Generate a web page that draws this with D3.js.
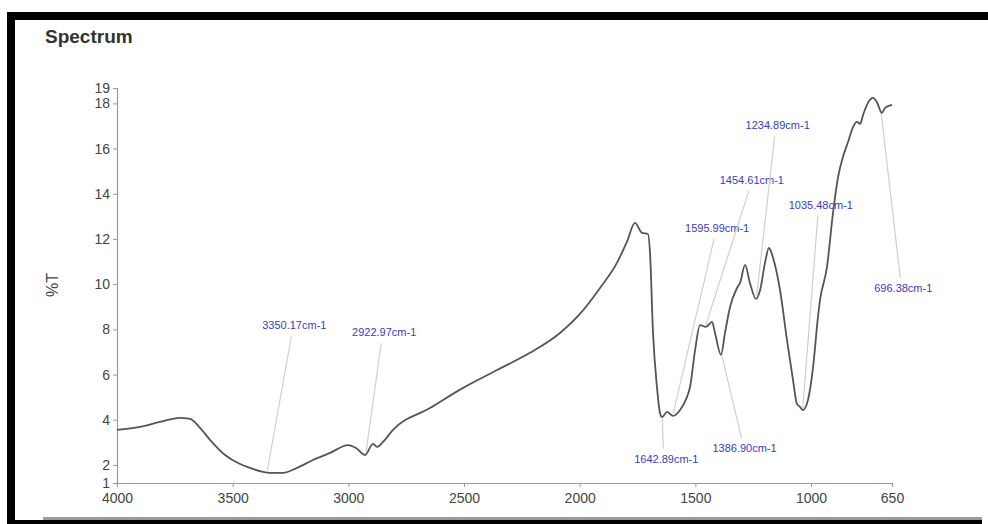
<!DOCTYPE html>
<html>
<head>
<meta charset="utf-8">
<script src="https://cdn.jsdelivr.net/npm/d3@7"></script>
<style>
  html, body { margin: 0; padding: 0; background: #fff; }
  svg { display: block; }
  text { font-family: "Liberation Sans", Arial, sans-serif; }
</style>
</head>
<body>
<svg id="chart" width="988" height="524"></svg>
<script>
// IR spectrum: wavenumber (cm-1) vs transmittance (%T)
const wavenumbers = [4000, 3900, 3814, 3728, 3684, 3641, 3598, 3533, 3468, 3425,
  3369, 3339, 3282, 3222, 3153, 3079, 3001, 2967, 2928, 2893,
  2876, 2850, 2807, 2647, 2504, 2357, 2215, 2085, 1999, 1912,
  1839, 1796, 1761, 1731, 1705, 1696, 1683, 1666, 1653, 1644,
  1622, 1597, 1566, 1536, 1523, 1501, 1480, 1454, 1428, 1415,
  1389, 1372, 1350, 1320, 1307, 1285, 1264, 1238, 1220, 1199,
  1182, 1164, 1134, 1104, 1078, 1061, 1048, 1035, 1013, 991,
  970, 961, 931, 905, 883, 862, 840, 818, 801, 788,
  775, 754, 732, 715, 694, 680, 650];

const transmittance = [3.55, 3.68, 3.90, 4.08, 4.04, 3.64, 3.11, 2.44, 2.04, 1.87,
  1.69, 1.65, 1.65, 1.87, 2.22, 2.53, 2.88, 2.75, 2.44, 2.93,
  2.80, 3.02, 3.55, 4.52, 5.41, 6.20, 6.96, 7.84, 8.68, 9.83,
  10.94, 11.87, 12.71, 12.27, 12.22, 11.38, 7.84, 5.45, 4.30, 4.12,
  4.35, 4.17, 4.43, 5.01, 5.45, 7.09, 8.19, 8.11, 8.33, 7.84,
  6.87, 7.84, 8.99, 9.83, 10.05, 10.85, 10.05, 9.35, 9.74, 10.94,
  11.60, 11.16, 9.74, 7.53, 5.76, 4.70, 4.57, 4.43, 4.88, 6.34,
  8.55, 9.30, 10.76, 13.15, 14.74, 15.63, 16.29, 16.96, 17.18, 17.09,
  17.49, 18.02, 18.24, 18.05, 17.58, 17.80, 17.93];

// Picked peaks (cm-1)
const peakWavenumbers = [3350.17, 2922.97, 1642.89, 1595.99, 1454.61, 1386.90, 1234.89, 1035.48, 696.38];

// Callout placement: label centre / baseline offset (px) from the peak point on the trace
const calloutOffsets = [[27, -143], [18, -117], [4, 46], [44, -184], [46, -143],
  [23, 100], [21, -168], [18, -201], [22, 180]];

const xTicks = [4000, 3500, 3000, 2500, 2000, 1500, 1000, 650];
const yTicks = [2, 4, 6, 8, 10, 12, 14, 16, 18];
const xDomain = [4000, 650];
const yDomain = [1.2, 18.68];

const svg = d3.select("#chart");

// Frame
svg.append("rect").attr("x", 7).attr("y", 12).attr("width", 981).attr("height", 8).attr("fill", "#000");
svg.append("rect").attr("x", 7).attr("y", 12).attr("width", 8).attr("height", 512).attr("fill", "#000");
svg.append("rect").attr("x", 43).attr("y", 517).attr("width", 939).attr("height", 3).attr("fill", "#9a9a9a");
svg.append("rect").attr("x", 7).attr("y", 520).attr("width", 975).attr("height", 4).attr("fill", "#000");

svg.append("text").attr("x", 45).attr("y", 43)
  .attr("font-size", 19).attr("font-weight", "bold").attr("fill", "#333")
  .text("Spectrum");

const x = d3.scaleLinear().domain(xDomain).range([117, 892]);
const y = d3.scaleLinear().domain(yDomain).range([483, 88]);

// Axes
const xAxis = svg.append("g").attr("transform", "translate(0,483)")
  .call(d3.axisBottom(x).tickValues(xTicks).tickSize(4).tickPadding(6).tickFormat(d3.format("d")));
const yAxis = svg.append("g").attr("transform", "translate(117,0)")
  .call(d3.axisLeft(y).tickValues([yDomain[0], ...yTicks, yDomain[1]]).tickSize(4).tickPadding(3)
    .tickFormat(d => d3.format(".0f")(d)));

[xAxis, yAxis].forEach(g => {
  g.select(".domain").attr("stroke", "#9a9a9a").attr("stroke-width", 1.2);
  g.selectAll(".tick line").attr("stroke", "#9a9a9a");
  g.selectAll(".tick text").attr("fill", "#444").attr("font-size", 14)
    .attr("font-family", "'Liberation Sans', Arial, sans-serif");
});

svg.append("text")
  .attr("transform", "translate(58,285) rotate(-90)")
  .attr("text-anchor", "middle")
  .attr("font-size", 16).attr("fill", "#444")
  .text("%T");

// Transmittance at an arbitrary wavenumber, linear between samples
function tAt(w) {
  for (let i = 0; i < wavenumbers.length - 1; i++) {
    const a = wavenumbers[i], b = wavenumbers[i + 1];
    if (w <= a && w >= b) {
      const t = (a - w) / (a - b);
      return transmittance[i] + t * (transmittance[i + 1] - transmittance[i]);
    }
  }
  return transmittance[transmittance.length - 1];
}

// Callouts (drawn under the trace)
const callouts = svg.append("g");
peakWavenumbers.forEach((w, i) => {
  const px = x(w), py = y(tAt(w));
  const [dx, dy] = calloutOffsets[i];
  const lx = px + dx, ly = py + dy;
  const above = dy < 0;
  const sy = above ? ly + 7 : ly - 14;
  const ey = above ? py - 2 : py + 2;
  callouts.append("line")
    .attr("x1", lx - 3).attr("y1", sy).attr("x2", px).attr("y2", ey)
    .attr("stroke", "#cfcfcf").attr("stroke-width", 1.2);
  callouts.append("text")
    .attr("x", lx).attr("y", ly)
    .attr("text-anchor", "middle")
    .attr("font-size", 11).attr("fill", "#3a3ac8")
    .text(d3.format(".2f")(w) + "cm-1");
});

// Trace
const pts = wavenumbers.map((w, i) => [w, transmittance[i]]);
svg.append("path")
  .datum(pts)
  .attr("fill", "none")
  .attr("stroke", "#555")
  .attr("stroke-width", 1.8)
  .attr("stroke-linejoin", "round")
  .attr("d", d3.line().x(d => x(d[0])).y(d => y(d[1])).curve(d3.curveMonotoneX));
</script>
</body>
</html>
